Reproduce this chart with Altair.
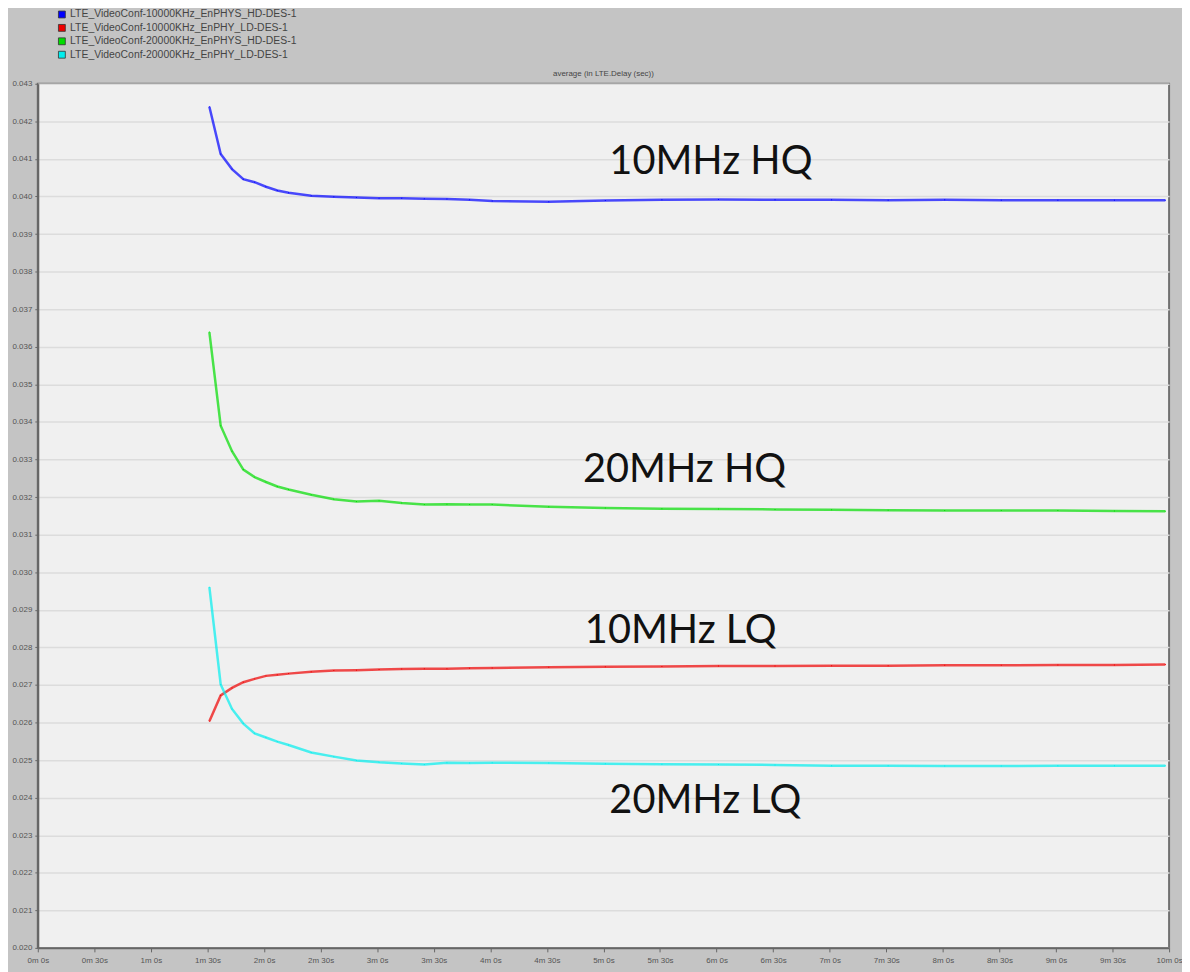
import altair as alt
import pandas as pd

# time in seconds
times = [91, 97, 103, 109, 115, 121, 127, 133, 145, 157, 169, 181, 193, 205, 217,
         229, 241, 271, 301, 331, 361, 391, 421, 451, 481, 511, 541, 571, 598]

series_names = [
    "LTE_VideoConf-10000KHz_EnPHYS_HD-DES-1",
    "LTE_VideoConf-10000KHz_EnPHY_LD-DES-1",
    "LTE_VideoConf-20000KHz_EnPHYS_HD-DES-1",
    "LTE_VideoConf-20000KHz_EnPHY_LD-DES-1",
]
series_colors = ["#0000ff", "#ee0000", "#00dd00", "#00eeee"]

blue_10_hd = [0.04239, 0.04113, 0.04073, 0.04046, 0.04038, 0.04026, 0.04016, 0.04010,
              0.04002, 0.03999, 0.03997, 0.03995, 0.03995, 0.03994, 0.03993, 0.03991,
              0.03988, 0.03986, 0.03989, 0.03991, 0.03992, 0.03991, 0.03991, 0.03990,
              0.03991, 0.03990, 0.03990, 0.03990, 0.03990]
red_10_ld = [0.02603, 0.02672, 0.02692, 0.02707, 0.02716, 0.02724, 0.02727, 0.02730,
             0.02735, 0.02738, 0.02739, 0.02741, 0.02742, 0.02743, 0.02743, 0.02744,
             0.02745, 0.02747, 0.02748, 0.02749, 0.02750, 0.02750, 0.02751, 0.02751,
             0.02752, 0.02752, 0.02753, 0.02753, 0.02754]
green_20_hd = [0.03639, 0.03390, 0.03322, 0.03273, 0.03253, 0.03240, 0.03228, 0.03220,
               0.03206, 0.03194, 0.03188, 0.03190, 0.03184, 0.03180, 0.03181, 0.03180,
               0.03180, 0.03174, 0.03171, 0.03169, 0.03168, 0.03167, 0.03166, 0.03165,
               0.03164, 0.03164, 0.03164, 0.03163, 0.03162]
cyan_20_ld = [0.02960, 0.02701, 0.02636, 0.02597, 0.02571, 0.02560, 0.02549, 0.02540,
              0.02520, 0.02509, 0.02499, 0.02494, 0.02491, 0.02488, 0.02493, 0.02492,
              0.02493, 0.02492, 0.02490, 0.02489, 0.02488, 0.02487, 0.02485, 0.02485,
              0.02484, 0.02484, 0.02485, 0.02485, 0.02485]

annot_text = ["10MHz HQ", "20MHz HQ", "10MHz LQ", "20MHz LQ"]
annot_time = [357, 343, 341, 354]
annot_value = [0.04091, 0.03272, 0.02844, 0.02392]

y_ticks = [round(0.020 + 0.001 * i, 3) for i in range(24)]
x_ticks = list(range(0, 601, 30))

rows = []
for name, vals in zip(series_names, [blue_10_hd, red_10_ld, green_20_hd, cyan_20_ld]):
    for t, v in zip(times, vals):
        rows.append({"time": t, "value": v, "series": name})
df = pd.DataFrame(rows)
ann = pd.DataFrame({"text": annot_text, "time": annot_time, "value": annot_value})

xscale = alt.Scale(domain=[0, 600], nice=False, zero=False)
yscale = alt.Scale(domain=[0.020, 0.043], nice=False, zero=False)
cscale = alt.Scale(domain=series_names, range=series_colors)

xaxis = alt.Axis(values=x_ticks, grid=False, title=None,
                 labelExpr="floor(datum.value/60) + 'm ' + (datum.value % 60) + 's'",
                 labelFont="Liberation Sans", labelFontSize=8, labelColor="#555555",
                 tickSize=4, tickColor="#666666", domainColor="#666666", domainWidth=2,
                 labelPadding=5, labelFlush=False, labelOverlap=False)
yaxis = alt.Axis(values=y_ticks, format=".3f", grid=True, gridColor="#dcdcdc", gridWidth=1.5,
                 title=None, labelFont="Liberation Sans", labelFontSize=8, labelColor="#555555",
                 tickSize=3, tickColor="#666666", domainColor="#666666", domainWidth=2,
                 labelPadding=3, labelFlush=False, labelOverlap=False)

X = alt.X("time:Q", scale=xscale, axis=xaxis)
Y = alt.Y("value:Q", scale=yscale, axis=yaxis)

lines = alt.Chart(df).mark_line(strokeWidth=2.5, strokeOpacity=0.7).encode(
    x=X, y=Y,
    color=alt.Color("series:N", scale=cscale, legend=None),
    detail="series:N",
)

legend_pts = alt.Chart(df).mark_point(filled=True, shape="square", size=1, opacity=1).encode(
    x=X, y=Y,
    color=alt.Color("series:N", scale=cscale, legend=alt.Legend(
        title=None, orient="none", legendX=19, legendY=-75,
        symbolType="square", symbolSize=48, symbolStrokeColor="#333333",
        symbolStrokeWidth=0.8, labelFont="Liberation Sans", labelFontSize=10.5,
        labelColor="#444444", rowPadding=2.5, labelOffset=3, symbolOpacity=1,
        labelLimit=500)),
)

texts = alt.Chart(ann).mark_text(font="Lato", fontSize=40, color="#111111",
                                  align="center", baseline="middle").encode(
    x=X, y=Y,
    text="text:N",
)

chart = alt.layer(lines, legend_pts, texts).resolve_legend(color="independent").properties(
    width=1139, height=870,
    padding={"left": 30, "top": 73, "right": 13, "bottom": 21},
    autosize=alt.AutoSizeParams(type="none"),
    background="#c4c4c4",
    title=alt.TitleParams("average (in LTE.Delay (sec))", font="Liberation Sans",
                          fontSize=8, fontWeight="normal", color="#444444",
                          anchor="middle", offset=-69),
).configure_view(
    fill="#f0f0f0", stroke="#707070", strokeWidth=2
)

chart.save("out.html", embed_options={"renderer": "svg", "actions": False})
